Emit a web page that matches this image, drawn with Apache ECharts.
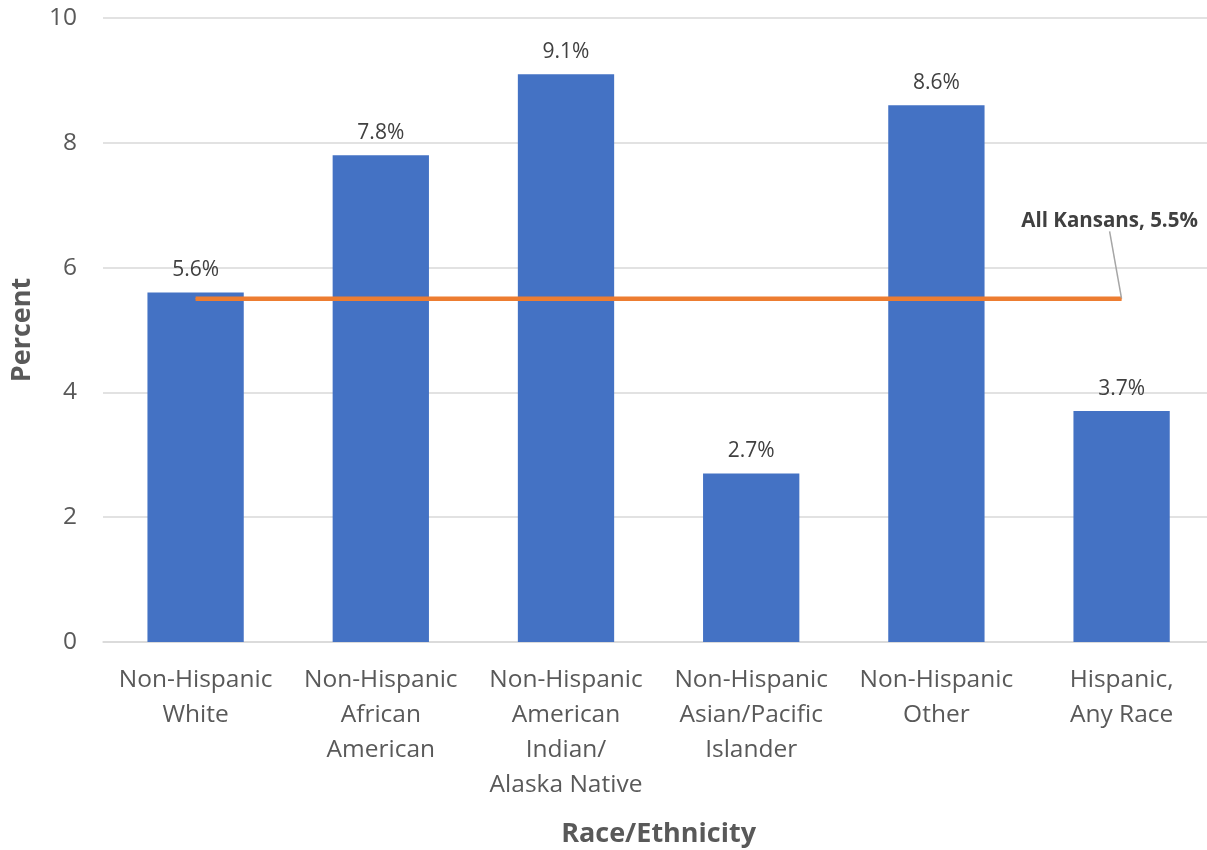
<!DOCTYPE html>
<html><head><meta charset="utf-8">
<script src="https://cdn.jsdelivr.net/npm/echarts@6/dist/echarts.min.js"></script>
<style>html,body{margin:0;padding:0;background:#fff;overflow:hidden}#c{width:1207px;height:850px}</style>
</head><body><div id="c"></div>
<script>
const categories = ["Non-Hispanic\nWhite","Non-Hispanic\nAfrican\nAmerican","Non-Hispanic\nAmerican\nIndian/\nAlaska Native","Non-Hispanic\nAsian/Pacific\nIslander","Non-Hispanic\nOther","Hispanic,\nAny Race"];
const rates = [5.6, 7.8, 9.1, 2.7, 8.6, 3.7];
const allKansans = [5.5, 5.5, 5.5, 5.5, 5.5, 5.5];
const allKansansLabel = "All Kansans, 5.5%";
const yTicks = [0, 2, 4, 6, 8, 10];

const FONT = "'Open Sans', 'Noto Sans', sans-serif";
const chart = echarts.init(document.getElementById('c'));
const lastIdx = allKansans.length - 1;
chart.setOption({
  animation: false,
  grid: {left: 103, top: 18, width: 1111.2, height: 624, containLabel: false, outerBoundsMode: 'none'},
  xAxis: {
    type: 'category', data: categories,
    name: 'Race/Ethnicity', nameLocation: 'middle', nameGap: 179,
    nameTextStyle: {fontFamily: FONT, fontSize: 27, fontWeight: 'bold', color: '#595959'},
    axisLine: {lineStyle: {color: '#D9D9D9', width: 1.5}},
    axisTick: {show: false},
    axisLabel: {fontFamily: FONT, fontSize: 24.5, color: '#595959', lineHeight: 35, margin: 21, interval: 0}
  },
  yAxis: {
    type: 'value', min: yTicks[0], max: yTicks[yTicks.length-1], interval: 2,
    name: 'Percent', nameLocation: 'middle', nameRotate: 90, nameGap: 67,
    nameTextStyle: {fontFamily: FONT, fontSize: 27, fontWeight: 'bold', color: '#595959'},
    axisLine: {show: false}, axisTick: {show: false},
    axisLabel: {fontFamily: FONT, fontSize: 24.5, color: '#595959', margin: 26},
    splitLine: {lineStyle: {color: '#D9D9D9', width: 1.5}}
  },
  series: [
    {
      type: 'bar', data: rates, barWidth: '52%',
      itemStyle: {color: '#4472C4'},
      label: {show: true, position: 'top', distance: 12, formatter: p => p.value.toFixed(1) + '%',
        fontFamily: FONT, fontSize: 21, color: '#404040'}
    },
    {
      type: 'line', data: allKansans.map((v, i) => i === lastIdx ? {
        value: v,
        label: {show: true, position: 'top', formatter: allKansansLabel, fontFamily: FONT, fontSize: 20.5, fontWeight: 'bold', color: '#404040'},
        labelLine: {show: true, lineStyle: {color: '#A6A6A6', width: 1.5}}
      } : v),
      symbol: 'circle', symbolSize: 1, showSymbol: true,
      itemStyle: {color: '#ED7D31'},
      lineStyle: {color: '#ED7D31', width: 4.5},
      label: {show: false},
      labelLayout: function (params) {
        if (params.dataIndex === lastIdx) return {dx: -12, dy: -62};
        return {};
      },
      z: 5
    }
  ]
});
</script></body></html>
